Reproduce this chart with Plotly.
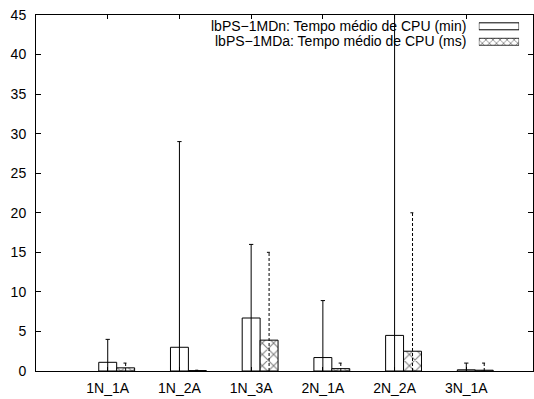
import plotly.graph_objects as go

# Benchmark instances
categories = ["1N_1A", "1N_2A", "1N_3A", "2N_1A", "2N_2A", "3N_1A"]

# lbPS-1MDn: mean CPU time (min) and its deviation
mdn_mean = [1.1, 3.0, 6.7, 1.7, 4.5, 0.15]
mdn_err = [2.9, 26.0, 9.3, 7.2, 45.0, 0.85]

# lbPS-1MDa: mean CPU time (ms) and its deviation
mda_mean = [0.4, 0.05, 3.9, 0.3, 2.5, 0.1]
mda_err = [0.6, 0.05, 11.1, 0.7, 17.5, 0.9]

y_ticks = [0, 5, 10, 15, 20, 25, 30, 35, 40, 45]

FONT = "Liberation Sans, Arial, Helvetica, sans-serif"
FONT_SIZE = 14
BAR_W = 0.25
CAP = 0.03

idx = list(range(len(categories)))
x_mdn = [i for i in idx]
x_mda = [i + BAR_W for i in idx]

HATCH = dict(shape="x", fgcolor="black", bgcolor="white", size=8, solidity=0.25)


def error_path(xs, means, errs):
    """Line segments for y +/- err, clipped at zero, with caps."""
    px, py = [], []
    for x, m, e in zip(xs, means, errs):
        lo = m - e
        hi = m + e
        px += [x, x, None]
        py += [max(lo, 0), hi, None]
        px += [x - CAP, x + CAP, None]
        py += [hi, hi, None]
        if lo >= 0:
            px += [x - CAP, x + CAP, None]
            py += [lo, lo, None]
    return px, py


fig = go.Figure()

fig.add_trace(go.Bar(
    x=x_mdn, y=mdn_mean, width=BAR_W,
    marker=dict(color="white", line=dict(color="black", width=1)),
    showlegend=False,
))
fig.add_trace(go.Bar(
    x=x_mda, y=mda_mean, width=BAR_W,
    marker=dict(color="white", line=dict(color="black", width=1), pattern=HATCH),
    showlegend=False,
))

ex, ey = error_path(x_mdn, mdn_mean, mdn_err)
fig.add_trace(go.Scatter(x=ex, y=ey, mode="lines",
                         line=dict(color="black", width=1),
                         showlegend=False, hoverinfo="skip"))
ex, ey = error_path(x_mda, mda_mean, mda_err)
fig.add_trace(go.Scatter(x=ex, y=ey, mode="lines",
                         line=dict(color="black", width=1, dash="3px,2px"),
                         showlegend=False, hoverinfo="skip"))

# Key samples, drawn on a small auxiliary subplot in the top-right corner
fig.add_trace(go.Bar(
    x=[1], y=[1.5], base=[0], width=0.45, orientation="h",
    xaxis="x2", yaxis="y2",
    marker=dict(color="white", line=dict(color="black", width=1)),
    showlegend=False, hoverinfo="skip",
))
fig.add_trace(go.Bar(
    x=[1], y=[0.5], base=[0], width=0.45, orientation="h",
    xaxis="x2", yaxis="y2",
    marker=dict(color="white", line=dict(color="black", width=0.8),
                pattern=dict(shape="x", fgcolor="black", bgcolor="white",
                             size=5, solidity=0.3)),
    showlegend=False, hoverinfo="skip",
))

legend_labels = [
    "lbPS\u22121MDn: Tempo médio de CPU (min)",
    "lbPS\u22121MDa: Tempo médio de CPU (ms)",
]
for label, yy in zip(legend_labels, [0.970, 0.926]):
    fig.add_annotation(
        text=label, xref="paper", yref="paper", x=0.869, y=yy,
        xanchor="right", yanchor="middle", showarrow=False,
        font=dict(family=FONT, size=FONT_SIZE, color="black"),
    )

fig.update_layout(
    width=534, height=399,
    margin=dict(l=36, r=1, t=15, b=28),
    paper_bgcolor="white", plot_bgcolor="white",
    barmode="overlay",
    font=dict(family=FONT, size=FONT_SIZE, color="black"),
    xaxis=dict(
        range=[-1, 5.93],
        tickmode="array", tickvals=idx, ticktext=categories,
        ticks="inside", ticklen=4, tickcolor="black",
        showline=True, linecolor="black", linewidth=1, mirror="ticks",
        showgrid=False, zeroline=False, ticklabelstandoff=4,
    ),
    yaxis=dict(
        range=[0, 45],
        tickmode="array", tickvals=y_ticks,
        ticks="inside", ticklen=5, tickcolor="black",
        showline=True, linecolor="black", linewidth=1, mirror="ticks",
        showgrid=False, zeroline=False, ticklabelstandoff=6,
    ),
    xaxis2=dict(domain=[0.891, 0.972], range=[0, 1], anchor="y2",
                visible=False, fixedrange=True),
    yaxis2=dict(domain=[0.903, 0.990], range=[0, 2], anchor="x2",
                visible=False, fixedrange=True),
)

fig.write_html("out.html")
